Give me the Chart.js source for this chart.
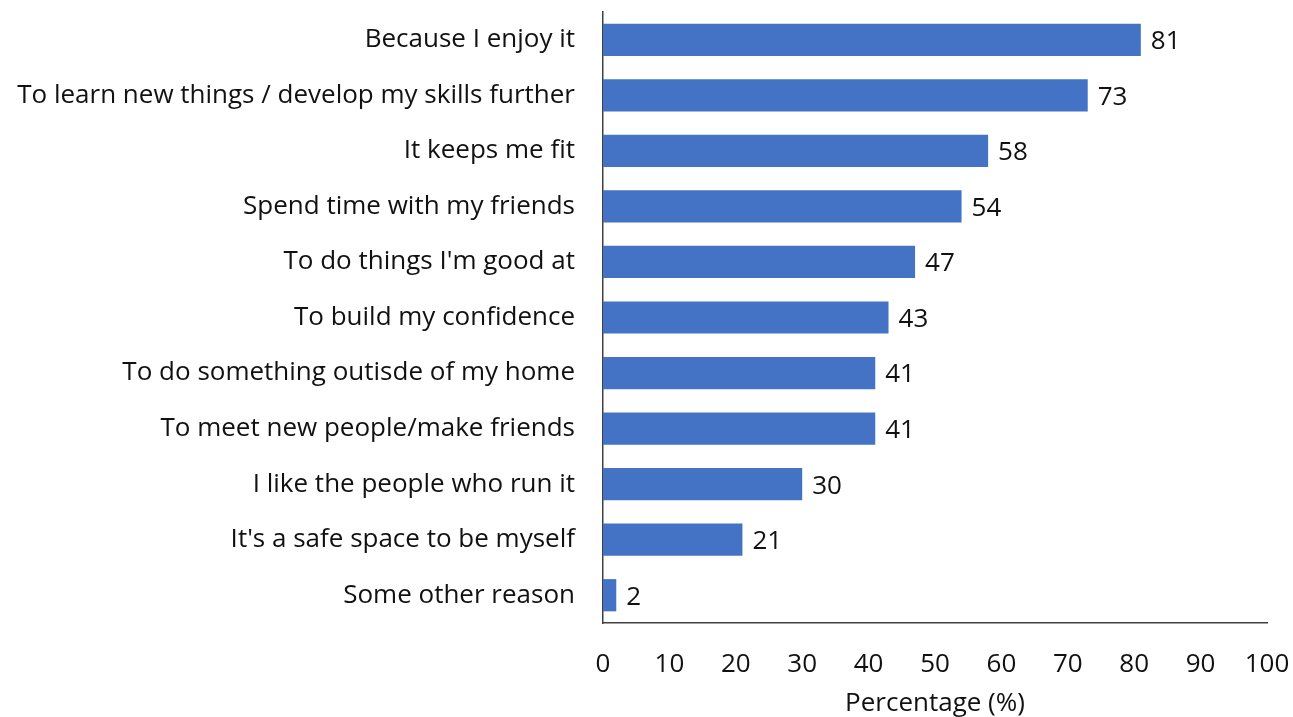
<!DOCTYPE html>
<html>
<head>
<meta charset="utf-8">
<script src="https://cdn.jsdelivr.net/npm/chart.js@4/dist/chart.umd.min.js"></script>
<style>
  html, body { margin: 0; padding: 0; background: #fff; }
  .chart-wrap { width: 1293px; height: 717px; }
</style>
</head>
<body>
<div class="chart-wrap"><canvas id="reasons__chart"></canvas></div>
<script>
const reasons = [
  "Because I enjoy it",
  "To learn new things / develop my skills further",
  "It keeps me fit",
  "Spend time with my friends",
  "To do things I'm good at",
  "To build my confidence",
  "To do something outisde of my home",
  "To meet new people/make friends",
  "I like the people who run it",
  "It's a safe space to be myself",
  "Some other reason",
];
const percentages = [81, 73, 58, 54, 47, 43, 41, 41, 30, 21, 2];

const COLOR = {
  bar: "#4472C4",
  axis: "#404040",
  text: "#111111",
};
const FONT = "'Open Sans', sans-serif";
const FONT_SIZE = 26;

// writes the value just past the end of each bar
const barValueLabels = {
  id: "barValueLabels",
  afterDatasetsDraw(chart) {
    const ctx = chart.ctx;
    const meta = chart.getDatasetMeta(0);
    ctx.save();
    ctx.font = `${FONT_SIZE}px ${FONT}`;
    ctx.fillStyle = COLOR.text;
    ctx.textAlign = "left";
    ctx.textBaseline = "middle";
    meta.data.forEach((bar, i) => {
      ctx.fillText(String(chart.data.datasets[0].data[i]), bar.x + 10, bar.y + 2);
    });
    ctx.restore();
  },
};

const chart = document.querySelector("#reasons__chart");
new Chart(chart, {
  type: "bar",
  data: {
    labels: reasons,
    datasets: [
      {
        label: "Percentage (%)",
        data: percentages,
        backgroundColor: COLOR.bar,
        borderWidth: 0,
        barPercentage: 0.58,
        categoryPercentage: 1,
      },
    ],
  },
  options: {
    indexAxis: "y",
    responsive: true,
    maintainAspectRatio: false,
    animation: false,
    layout: {
      padding: { top: 12, right: 26, bottom: 0, left: 0 },
    },
    scales: {
      x: {
        min: 0,
        max: 100,
        grid: { display: false, drawTicks: false },
        border: { display: true, color: COLOR.axis, width: 1.5 },
        ticks: {
          stepSize: 10,
          padding: 26,
          color: COLOR.text,
          font: { family: FONT, size: FONT_SIZE },
        },
        title: {
          display: true,
          text: "Percentage (%)",
          color: COLOR.text,
          font: { family: FONT, size: FONT_SIZE, lineHeight: 1 },
          padding: { top: 0, bottom: 0 },
        },
        afterFit(scale) {
          // fixed axis band, no extra room for the end labels
          scale.height = 94;
          scale.paddingLeft = 0;
          scale.paddingRight = 0;
        },
      },
      y: {
        grid: { display: false, drawTicks: false },
        border: { display: true, color: COLOR.axis, width: 1.5 },
        ticks: {
          padding: 28,
          color: COLOR.text,
          font: { family: FONT, size: FONT_SIZE },
        },
        afterFit(scale) {
          scale.width = 603;
          scale.paddingTop = 0;
          scale.paddingBottom = 0;
        },
      },
    },
    plugins: {
      legend: { display: false },
      tooltip: { enabled: false },
    },
  },
  plugins: [barValueLabels],
});
</script>
</body>
</html>
